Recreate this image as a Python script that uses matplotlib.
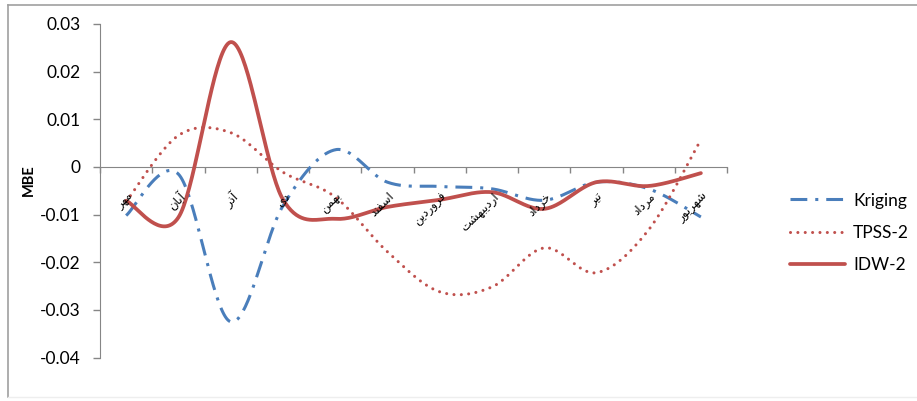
import matplotlib
matplotlib.use("Agg")
import matplotlib.pyplot as plt
import numpy as np
from matplotlib.lines import Line2D

plt.rcParams['font.family'] = ['Lato', 'DejaVu Sans']

# ماه‌های سال آبی (مهر تا شهریور)
months = ['مهر', 'آبان', 'آذر', 'دی', 'بهمن', 'اسفند',
          'فروردین', 'اردیبهشت', 'خرداد', 'تیر', 'مرداد', 'شهریور']

kriging = [-0.0102, -0.0015, -0.0325, -0.0082, 0.0036, -0.0032,
           -0.0041, -0.0046, -0.0070, -0.0032, -0.0046, -0.0105]
tpss2 = [-0.0073, 0.0066, 0.0072, -0.0011, -0.0063, -0.0178,
         -0.0262, -0.0252, -0.0170, -0.0222, -0.0132, 0.0057]
idw2 = [-0.0071, -0.0106, 0.0262, -0.0068, -0.0109, -0.0084,
        -0.0069, -0.0053, -0.0088, -0.0032, -0.0040, -0.0013]

yticks = [0.03, 0.02, 0.01, 0, -0.01, -0.02, -0.03, -0.04]


# --- شکل‌دهی حروف فارسی (matplotlib خودش حروف را به هم نمی‌چسباند) ---
# (isolated, final, initial, medial)
FORMS = {
    'آ': ('\uFE81', '\uFE82', None, None),
    'ا': ('\uFE8D', '\uFE8E', None, None),
    'ب': ('\uFE8F', '\uFE90', '\uFE91', '\uFE92'),
    'ت': ('\uFE95', '\uFE96', '\uFE97', '\uFE98'),
    'خ': ('\uFEA5', '\uFEA6', '\uFEA7', '\uFEA8'),
    'د': ('\uFEA9', '\uFEAA', None, None),
    'ذ': ('\uFEAB', '\uFEAC', None, None),
    'ر': ('\uFEAD', '\uFEAE', None, None),
    'س': ('\uFEB1', '\uFEB2', '\uFEB3', '\uFEB4'),
    'ش': ('\uFEB5', '\uFEB6', '\uFEB7', '\uFEB8'),
    'ف': ('\uFED1', '\uFED2', '\uFED3', '\uFED4'),
    'م': ('\uFEE1', '\uFEE2', '\uFEE3', '\uFEE4'),
    'ن': ('\uFEE5', '\uFEE6', '\uFEE7', '\uFEE8'),
    'ه': ('\uFEE9', '\uFEEA', '\uFEEB', '\uFEEC'),
    'و': ('\uFEED', '\uFEEE', None, None),
    'ی': ('\uFBFC', '\uFBFD', '\uFBFE', '\uFBFF'),
}


def shape(word):
    out = []
    for i, ch in enumerate(word):
        f = FORMS[ch]
        prev_joins = i > 0 and FORMS[word[i - 1]][2] is not None
        next_ok = i < len(word) - 1 and f[2] is not None
        if prev_joins and next_ok:
            out.append(f[3])
        elif prev_joins:
            out.append(f[1])
        elif next_ok:
            out.append(f[2])
        else:
            out.append(f[0])
    return ''.join(reversed(out))


def smooth(vals, n=40):
    # منحنی هموار شبیه Excel (بزیه از نوع Catmull-Rom)
    p = np.asarray(vals, dtype=float)
    x = np.arange(len(p), dtype=float)
    pe = np.concatenate([[p[0]], p, [p[-1]]])
    xe = np.concatenate([[x[0]], x, [x[-1]]])
    xs, ys = [], []
    t = np.linspace(0, 1, n)
    for i in range(len(p) - 1):
        x0, x3 = xe[i + 1], xe[i + 2]
        y0, y3 = pe[i + 1], pe[i + 2]
        x1 = x0 + (xe[i + 2] - xe[i]) / 6
        y1 = y0 + (pe[i + 2] - pe[i]) / 6
        x2 = x3 - (xe[i + 3] - xe[i + 1]) / 6
        y2 = y3 - (pe[i + 3] - pe[i + 1]) / 6
        b = [(1 - t) ** 3, 3 * (1 - t) ** 2 * t, 3 * (1 - t) * t ** 2, t ** 3]
        xs.append(b[0] * x0 + b[1] * x1 + b[2] * x2 + b[3] * x3)
        ys.append(b[0] * y0 + b[1] * y1 + b[2] * y2 + b[3] * y3)
    return np.concatenate(xs), np.concatenate(ys)


W, H = 917, 401
fig = plt.figure(figsize=(W / 100, H / 100), dpi=100)
ax = fig.add_axes([100 / W, 1 - 357.5 / H, 627 / W, 333.5 / H])

blue = '#4A7EBB'
red = '#C0504D'

x, y = smooth(kriging)
ax.plot(x, y, color=blue, lw=2.2, dashes=(5.5, 2.6, 1, 2.6),
        dash_capstyle='butt', label='Kriging', zorder=3)
x, y = smooth(tpss2)
ax.plot(x, y, color=red, lw=2.2, dashes=(0.01, 2.4),
        dash_capstyle='round', label='TPSS-2', zorder=3)
x, y = smooth(idw2)
ax.plot(x, y, color=red, lw=2.7, solid_capstyle='round',
        label='IDW-2', zorder=4)

ax.set_xlim(-0.5, len(months) - 0.5)
ax.set_ylim(-0.04, 0.03)
ax.set_yticks(yticks)
ax.set_yticklabels([f'{v:g}' for v in yticks], fontsize=12.5)

for s in ['top', 'right']:
    ax.spines[s].set_visible(False)
ax.spines['left'].set_color('#868686')
ax.spines['bottom'].set_color('#868686')
ax.spines['bottom'].set_position(('data', 0))
ax.tick_params(axis='y', length=5, width=1, color='#868686', pad=9)

# خط‌های تیک بین دسته‌ها
ax.set_xticks(np.arange(-0.5, len(months), 1.0))
ax.set_xticklabels([])
ax.tick_params(axis='x', length=4, width=1, color='#868686', direction='out')

for i, m in enumerate(months):
    ax.text(i + 0.1, -0.0058, shape(m), rotation=45, rotation_mode='anchor',
            ha='right', va='center', fontsize=8.5, family='DejaVu Sans',
            zorder=5)

fig.text(29 / W, 1 - 180 / H, 'MBE', rotation=90, ha='center', va='center',
         fontsize=10.5, fontweight='bold')

leg = ax.legend(loc='center left', bbox_to_anchor=(781 / W, 1 - 233 / H),
                bbox_transform=fig.transFigure, frameon=False, fontsize=12.5,
                handlelength=3.2, handletextpad=0.45, labelspacing=0.95,
                borderpad=0)

# کادر بیرونی نمودار
fig.add_artist(Line2D([8 / W, 8 / W], [1 - 397 / H, 1 - 5 / H], color='#A0A0A0', lw=1.2))
fig.add_artist(Line2D([8 / W, 1], [1 - 5 / H, 1 - 5 / H], color='#A0A0A0', lw=1.2))
fig.add_artist(Line2D([8 / W, 1], [1 - 397 / H, 1 - 397 / H], color='#EEEEEE', lw=1))

fig.savefig('out.png', dpi=100)
